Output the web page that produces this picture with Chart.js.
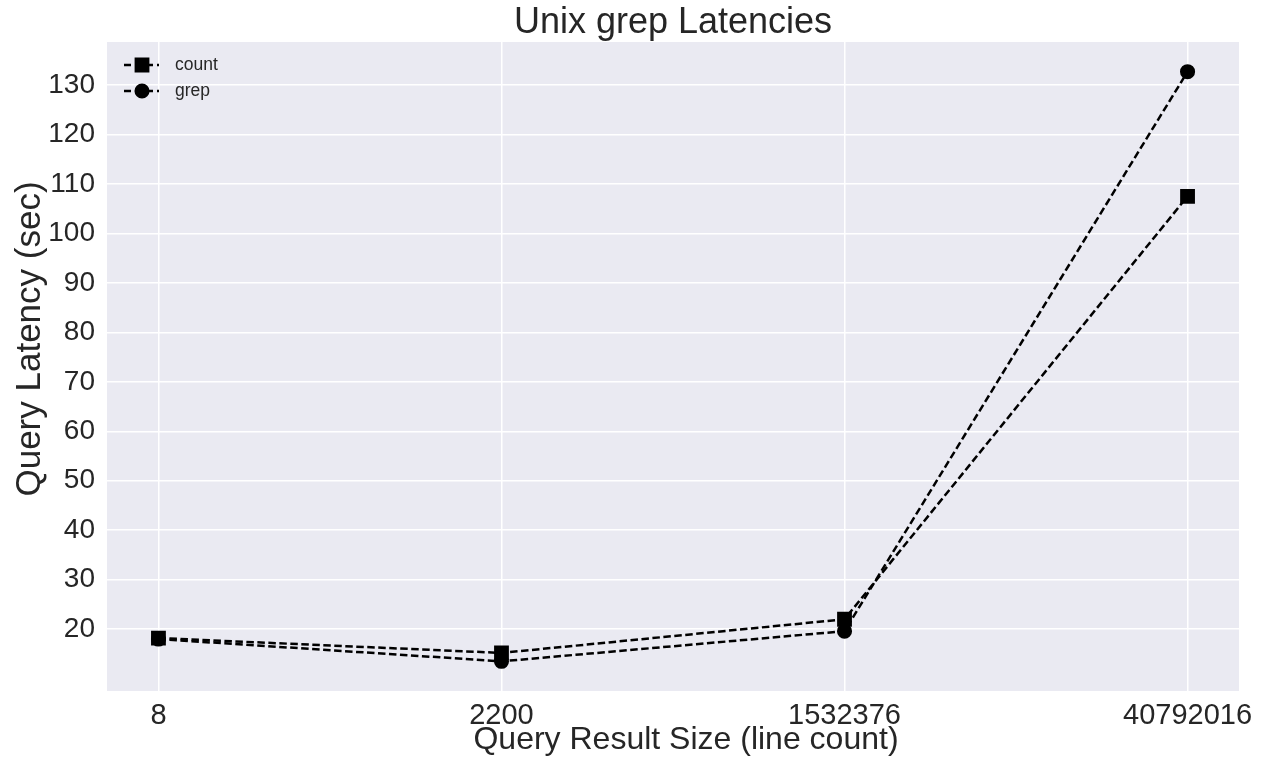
<!DOCTYPE html>
<html>
<head>
<meta charset="utf-8">
<script src="https://cdn.jsdelivr.net/npm/chart.js@4"></script>
<style>
  html, body { margin: 0; padding: 0; background: #fff; }
  #wrap { width: 1265px; height: 761px; }
</style>
</head>
<body>
<div id="wrap"><canvas id="latChart" width="1265" height="761"></canvas></div>
<script>
// 데이터
const sizes = ['8', '2200', '1532376', '40792016'];
const countVals = [18.2, 15.2, 22.0, 107.5];
const grepVals = [18.0, 13.5, 19.6, 132.7];
const yTicks = [20, 30, 40, 50, 60, 70, 80, 90, 100, 110, 120, 130];

const FONT = "'Liberation Sans', Arial, sans-serif";
const TXT = '#262626';

// 플롯 배경 + 제목 + 축 제목 + 범례 직접 그리기
const decor = {
    id: 'decor',
    beforeDraw(chart) {
        const { ctx, chartArea: a } = chart;
        ctx.save();
        ctx.fillStyle = '#eaeaf2';
        ctx.fillRect(a.left, a.top, a.right - a.left, a.bottom - a.top);
        ctx.restore();
    },
    afterDraw(chart) {
        const { ctx, chartArea: a } = chart;
        ctx.save();
        ctx.fillStyle = TXT;
        ctx.font = '36px ' + FONT;
        ctx.textAlign = 'center';
        ctx.textBaseline = 'alphabetic';
        ctx.fillText('Unix grep Latencies', (a.left + a.right) / 2, 33);

        // x축 제목
        ctx.font = '32px ' + FONT;
        ctx.fillText('Query Result Size (line count)', 686, 749);

        // y축 제목
        ctx.save();
        ctx.translate(30, 339);
        ctx.rotate(-Math.PI / 2);
        ctx.font = '35px ' + FONT;
        ctx.textBaseline = 'middle';
        ctx.fillText('Query Latency (sec)', 0, 0);
        ctx.restore();

        // 범례
        chart.data.datasets.forEach((ds, i) => {
            const y = 65 + i * 26;
            ctx.strokeStyle = '#000';
            ctx.lineWidth = 2.5;
            ctx.setLineDash([7, 4]);
            ctx.beginPath();
            ctx.moveTo(124, y);
            ctx.lineTo(159, y);
            ctx.stroke();
            ctx.setLineDash([]);
            ctx.fillStyle = '#000';
            Chart.helpers.drawPoint(ctx, {
                pointStyle: ds.pointStyle, radius: ds.pointRadius, rotation: 0, borderWidth: 1
            }, 142, y);
            ctx.fillStyle = TXT;
            ctx.font = '17.5px ' + FONT;
            ctx.textAlign = 'left';
            ctx.textBaseline = 'middle';
            ctx.fillText(ds.label, 175, y);
        });
        ctx.restore();
    }
};

const toPts = vals => vals.map((v, i) => ({ x: i, y: v }));

new Chart(document.getElementById('latChart').getContext('2d'), {
    type: 'line',
    data: {
        datasets: [
            {
                label: 'count',
                data: toPts(countVals),
                borderColor: '#000',
                backgroundColor: '#000',
                borderWidth: 2.5,
                borderDash: [7.5, 3.5],
                pointStyle: 'rect',
                pointRadius: 8.7,
                pointHoverRadius: 8.7
            },
            {
                label: 'grep',
                data: toPts(grepVals),
                borderColor: '#000',
                backgroundColor: '#000',
                borderWidth: 2.5,
                borderDash: [7.5, 3.5],
                pointStyle: 'circle',
                pointRadius: 6.3,
                pointHoverRadius: 6.3
            }
        ]
    },
    options: {
        responsive: false,
        animation: false,
        layout: { padding: { top: 42, right: 26, left: 0, bottom: 0 } },
        plugins: {
            legend: { display: false },
            title: { display: false },
            tooltip: { enabled: false }
        },
        scales: {
            x: {
                type: 'linear',
                min: -0.15,
                max: 3.15,
                afterBuildTicks: s => { s.ticks = sizes.map((_, i) => ({ value: i })); },
                afterFit: s => { s.height = 70; },
                grid: { color: '#ffffff', lineWidth: 1.5, drawTicks: false },
                border: { display: false },
                ticks: {
                    padding: 8,
                    color: TXT,
                    font: { family: FONT, size: 29 },
                    maxRotation: 0,
                    callback: v => sizes[v]
                }
            },
            y: {
                min: 7.5,
                max: 138.7,
                afterBuildTicks: s => { s.ticks = yTicks.map(v => ({ value: v })); },
                afterFit: s => { s.width = 107; },
                grid: { color: '#ffffff', lineWidth: 1.5, drawTicks: false },
                border: { display: false },
                ticks: {
                    padding: 12,
                    color: TXT,
                    font: { family: FONT, size: 28 }
                }
            }
        }
    },
    plugins: [decor]
});
</script>
</body>
</html>
